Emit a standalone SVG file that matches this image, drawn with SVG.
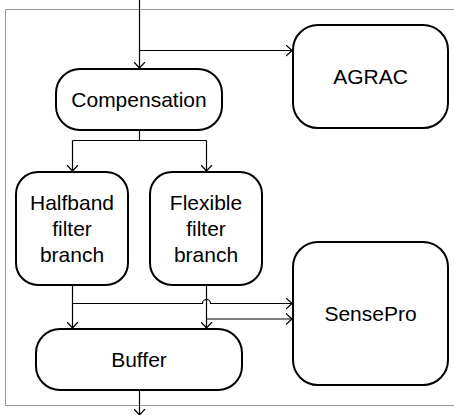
<svg xmlns="http://www.w3.org/2000/svg" width="454" height="415" viewBox="0 0 454 415">
  <style>
    .box { fill: #ffffff; stroke: #000000; stroke-width: 2; }
    .wire { fill: none; stroke: #000000; stroke-width: 1.2; }
    .label { font-family: "Liberation Sans", Arial, sans-serif; font-size: 21px; fill: #000000; text-anchor: middle; }
  </style>
  <defs>
    <marker id="arrow" viewBox="0 0 12 12" refX="6.5" refY="6" markerWidth="12" markerHeight="12" markerUnits="userSpaceOnUse" orient="auto">
      <path d="M0.5,0.5 L6.5,6 L0.5,11.5" fill="none" stroke="#000000" stroke-width="1.2"/>
    </marker>
  </defs>
  <rect width="454" height="415" fill="#ffffff"/>
  <!-- enclosing frame, open on the right -->
  <path d="M460,9.5 H5.5 V405.5 H460" fill="none" stroke="#999999" stroke-width="1"/>

  <g id="connectors">
    <path class="wire" d="M139.5,0 V68" marker-end="url(#arrow)"/>
    <path class="wire" d="M139.5,50.5 H292" marker-end="url(#arrow)"/>
    <path class="wire" d="M139.5,130 V140.5"/>
    <path class="wire" d="M72.5,140.5 H206.5"/>
    <path class="wire" d="M72.5,140.5 V171" marker-end="url(#arrow)"/>
    <path class="wire" d="M206.5,140.5 V171" marker-end="url(#arrow)"/>
    <path class="wire" d="M72.5,285 V328" marker-end="url(#arrow)"/>
    <path class="wire" d="M206.5,285 V328" marker-end="url(#arrow)"/>
    <path class="wire" d="M72.5,303.5 H202.5 A4,4 0 0 1 210.5,303.5 H292" marker-end="url(#arrow)"/>
    <path class="wire" d="M206.5,319 H292" marker-end="url(#arrow)"/>
    <path class="wire" d="M139.5,390 V415" marker-end="url(#arrow)"/>
  </g>

  <g id="agrac">
    <rect class="box" x="293" y="25" width="155" height="103" rx="25" ry="25"/>
    <text class="label" x="370.5" y="83.5">AGRAC</text>
  </g>
  <g id="compensation">
    <rect class="box" x="56" y="69" width="166" height="61" rx="24" ry="24"/>
    <text class="label" x="139" y="106.5">Compensation</text>
  </g>
  <g id="halfband">
    <rect class="box" x="16" y="172" width="112" height="113" rx="22" ry="22"/>
    <text class="label" x="72" y="210">Halfband</text>
    <text class="label" x="72" y="236">filter</text>
    <text class="label" x="72" y="262">branch</text>
  </g>
  <g id="flexible">
    <rect class="box" x="150" y="172" width="112" height="113" rx="22" ry="22"/>
    <text class="label" x="206" y="210">Flexible</text>
    <text class="label" x="206" y="236">filter</text>
    <text class="label" x="206" y="262">branch</text>
  </g>
  <g id="sensepro">
    <rect class="box" x="293" y="242" width="155" height="143" rx="25" ry="25"/>
    <text class="label" x="370.5" y="320.5">SensePro</text>
  </g>
  <g id="buffer">
    <rect class="box" x="36" y="329" width="206" height="61" rx="24" ry="24"/>
    <text class="label" x="139" y="367">Buffer</text>
  </g>
</svg>
